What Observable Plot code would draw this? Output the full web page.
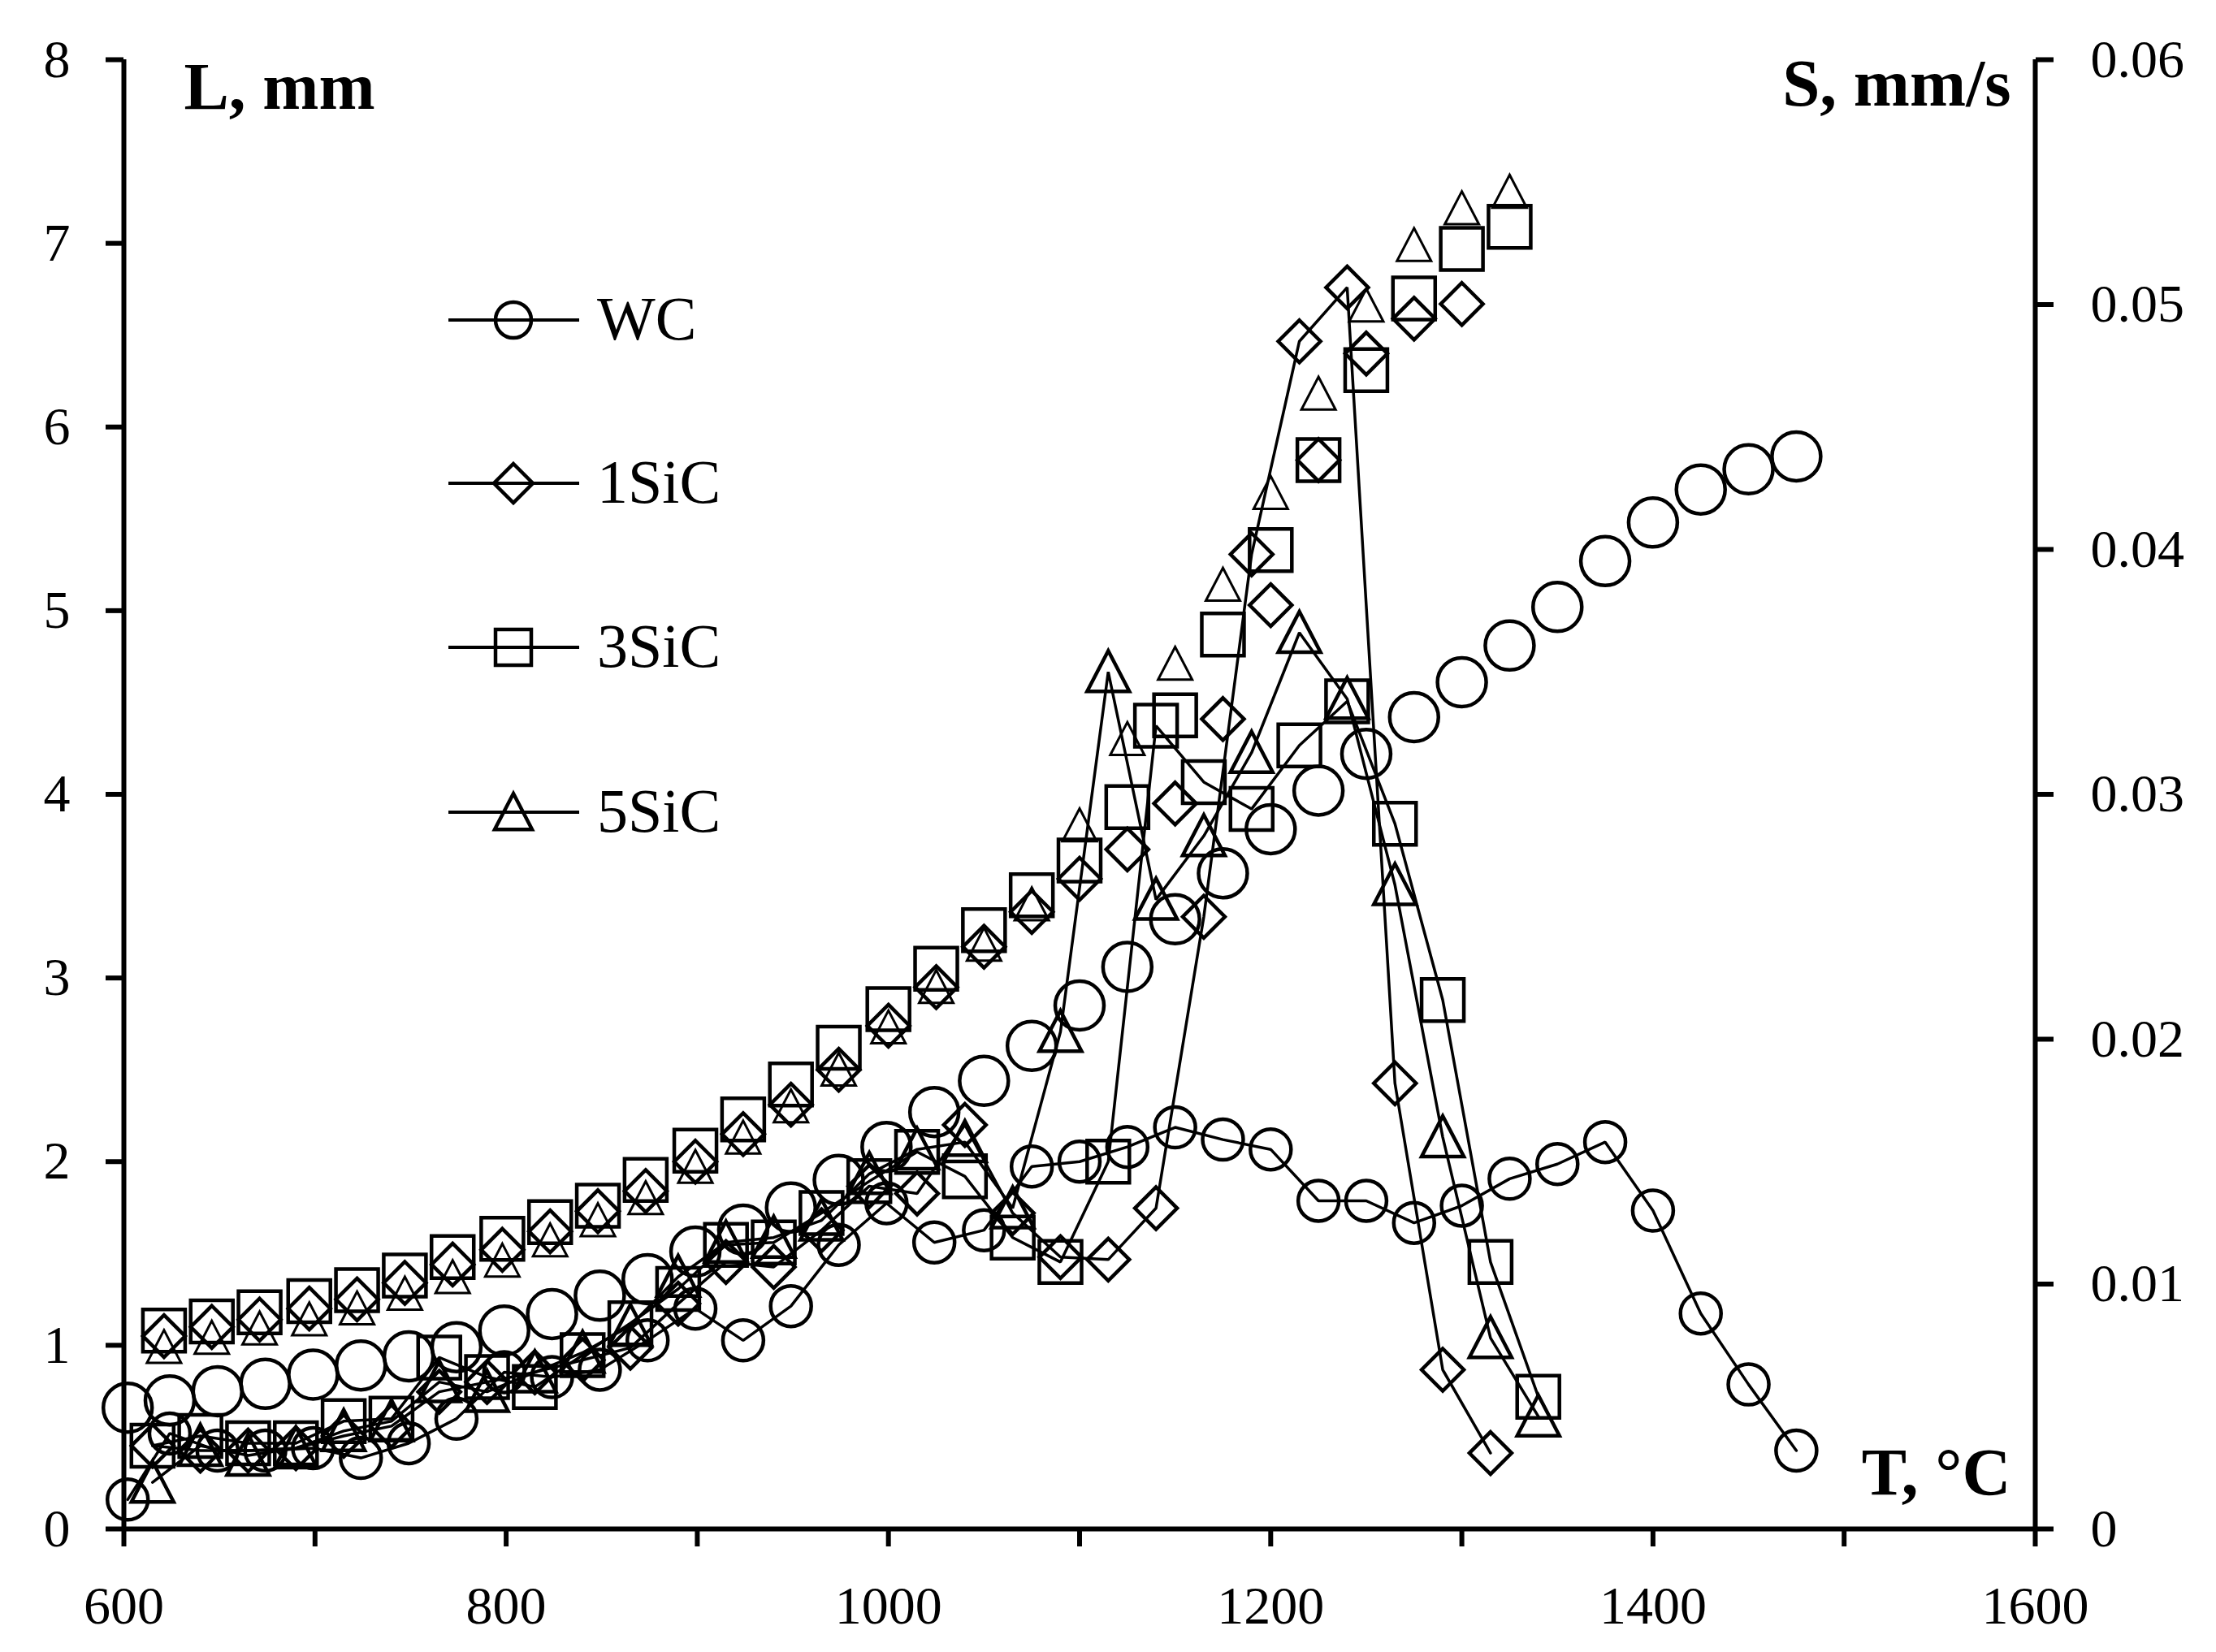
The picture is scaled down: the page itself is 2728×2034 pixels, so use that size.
<!DOCTYPE html>
<html>
<head>
<meta charset="utf-8">
<script src="https://cdn.jsdelivr.net/npm/d3@7"></script>
<script src="https://cdn.jsdelivr.net/npm/@observablehq/plot@0.6"></script>
<style>
  html, body { margin: 0; padding: 0; background: #fff; }
  #chart svg { display: block; }
</style>
</head>
<body>
<div id="chart"></div>
<script>
// ---------- data ----------
const seriesNames = ["WC", "1SiC", "3SiC", "5SiC"];

// temperature grids (°C)
const wcT = [602,624,649,674,699,724,749,774,799,824,849,874,899,924,949,974,999,1024,1050,1075,1100,1125,1150,1175,1200,1225,1250,1275,1300,1325,1350,1375,1400,1425,1450,1475];
const sicLT = [621,646,671,697,722,747,772,798,823,848,873,899,924,949,974,1000,1025,1050,1075,1100,1125,1150,1175,1200,1225,1250,1275,1300,1325];
const sicST = [615,640,665,690,715,740,765,790,815,840,865,890,915,940,965,990,1015,1040,1065,1090,1115,1140,1165,1190,1215,1240,1265,1290,1315,1340];

// shrinkage L, mm (left axis)
const wcL   = [0.66,0.70,0.75,0.79,0.84,0.89,0.94,0.99,1.08,1.17,1.27,1.36,1.51,1.63,1.75,1.90,2.08,2.27,2.44,2.63,2.85,3.06,3.32,3.57,3.81,4.02,4.22,4.42,4.61,4.81,5.02,5.27,5.48,5.66,5.77,5.84];
const sic1L = [1.05,1.10,1.14,1.20,1.25,1.34,1.44,1.52,1.62,1.73,1.84,2.00,2.15,2.31,2.50,2.74,2.95,3.17,3.36,3.54,3.70,3.95,4.41,5.03,5.82,6.40,6.59,6.67];
const sic3L = [1.08,1.13,1.18,1.24,1.30,1.38,1.48,1.58,1.67,1.76,1.90,2.06,2.23,2.42,2.62,2.83,3.05,3.26,3.45,3.64,3.93,4.43,4.87,5.33,5.82,6.31,6.70,6.97,7.09];
const sic5L = [0.99,1.04,1.09,1.14,1.20,1.28,1.37,1.46,1.57,1.68,1.80,1.97,2.13,2.30,2.50,2.73,2.95,3.18,3.40,3.83,4.30,4.71,5.14,5.64,6.18,6.66,6.99,7.19,7.28];

// shrinkage rate S, mm/s (right axis)
const wcS   = [0.0012,0.0039,0.0032,0.0032,0.0033,0.0029,0.0035,0.0045,0.0064,0.0062,0.0065,0.0077,0.0090,0.0077,0.0091,0.0116,0.0133,0.0117,0.0122,0.0148,0.0150,0.0156,0.0164,0.0159,0.0155,0.0134,0.0134,0.0125,0.0132,0.0143,0.0149,0.0158,0.0130,0.0088,0.0059,0.0032];
const sic1S = [0.0034,0.0032,0.0032,0.0033,0.0038,0.0042,0.0056,0.0060,0.0064,0.0069,0.0074,0.0092,0.0109,0.0107,0.0122,0.0140,0.0137,0.0165,0.0129,0.0111,0.0110,0.0131,0.0250,0.0398,0.0485,0.0507,0.0182,0.0065,0.0031];
const sic3S = [0.0034,0.0038,0.0035,0.0035,0.0044,0.0045,0.0070,0.0062,0.0058,0.0071,0.0084,0.0098,0.0116,0.0117,0.0129,0.0142,0.0154,0.0144,0.0119,0.0109,0.0150,0.0328,0.0305,0.0294,0.0320,0.0338,0.0288,0.0216,0.0109,0.0054];
const sic5S = [0.0019,0.0034,0.0030,0.0033,0.0040,0.0044,0.0060,0.0056,0.0064,0.0072,0.0083,0.0103,0.0117,0.0119,0.0126,0.0145,0.0155,0.0158,0.0131,0.0203,0.0350,0.0257,0.0283,0.0317,0.0366,0.0339,0.0263,0.0160,0.0078,0.0046];

// axes
const xDomain = [600, 1600];
const xTicks = [600,700,800,900,1000,1100,1200,1300,1400,1500,1600];
const xTickLabels = ["600","","800","","1000","","1200","","1400","","1600"];
const lDomain = [0, 8];
const lTicks = [0,1,2,3,4,5,6,7,8];
const sDomain = [0, 0.06];
const sTicks = [0,0.01,0.02,0.03,0.04,0.05,0.06];
const sTickLabels = ["0","0.01","0.02","0.03","0.04","0.05","0.06"];

// ---------- helpers ----------
const K = (lDomain[1] - lDomain[0]) / (sDomain[1] - sDomain[0]); // maps S onto the L scale
const rowsL = (T, L) => T.slice(0, L.length).map((t, i) => ({T: t, v: L[i]}));
const rowsS = (T, S) => T.slice(0, S.length).map((t, i) => ({T: t, v: S[i] * K}));

function sym(fn) { return {draw(ctx, size) { fn(ctx, Math.sqrt(size / Math.PI)); }}; }
const circleSym = sym((c, r) => { c.moveTo(r, 0); c.arc(0, 0, r, 0, 2 * Math.PI); c.closePath(); });
const squareSym = sym((c, r) => { c.moveTo(-r, -r); c.lineTo(r, -r); c.lineTo(r, r); c.lineTo(-r, r); c.closePath(); });
const diamondSym = sym((c, r) => { c.moveTo(0, -r); c.lineTo(r, 0); c.lineTo(0, r); c.lineTo(-r, 0); c.closePath(); });
const triangleSym = sym((c, r) => { c.moveTo(0, -r); c.lineTo(r, r * 0.92); c.lineTo(-r, r * 0.92); c.closePath(); });
const symbols = [circleSym, diamondSym, squareSym, triangleSym];

const Sdata = [rowsS(wcT, wcS), rowsS(sicST, sic1S), rowsS(sicST, sic3S), rowsS(sicST, sic5S)];
const Ldata = [rowsL(wcT, wcL), rowsL(sicLT, sic1L), rowsL(sicLT, sic3L), rowsL(sicLT, sic5L)];
const sR = [25, 26, 26, 26];
const lR = [30, 26, 26, 21];
const lSW = [4.5, 4.5, 4.5, 3];

const FONT = "'Liberation Serif', 'DejaVu Serif', serif";
const W = 2728, H = 2034;
const ML = 152, MR = 223, MT = 73, MB = 152;

const marks = [];
// connected rate curves
Sdata.forEach((d, i) => {
  marks.push(Plot.line(d, {x: "T", y: "v", stroke: "black", strokeWidth: 3.5, strokeLinejoin: "miter"}));
});
Sdata.forEach((d, i) => {
  marks.push(Plot.dot(d, {x: "T", y: "v", symbol: () => symbols[i], r: sR[i], stroke: "black", fill: "none", strokeWidth: 4.5}));
});
// shrinkage curves (markers only)
Ldata.forEach((d, i) => {
  marks.push(Plot.dot(d, {x: "T", y: "v", symbol: () => symbols[i], r: lR[i], stroke: "black", fill: "none", strokeWidth: lSW[i]}));
});

// axis lines
marks.push(Plot.ruleX([xDomain[0]], {stroke: "black", strokeWidth: 6}));
marks.push(Plot.ruleX([xDomain[1]], {stroke: "black", strokeWidth: 6}));
marks.push(Plot.ruleY([lDomain[0]], {stroke: "black", strokeWidth: 6}));

// axes
marks.push(Plot.axisX({ticks: xTicks, tickFormat: (d, i) => xTickLabels[i], tickSize: 22, tickPadding: 48,
  strokeWidth: 6, fontSize: 66, label: null}));
marks.push(Plot.axisY({anchor: "left", ticks: lTicks, tickFormat: d => String(d), tickSize: 22, tickPadding: 44,
  strokeWidth: 6, fontSize: 66, label: null}));
marks.push(Plot.axisY({anchor: "right", ticks: sTicks.map(s => s * K), tickFormat: (d, i) => sTickLabels[i],
  tickSize: 22, tickPadding: 46, strokeWidth: 6, fontSize: 66, label: null}));

// axis titles
marks.push(Plot.text(["L, mm"], {text: d => d, frameAnchor: "top-left", dx: 74, dy: 60, textAnchor: "start",
  lineAnchor: "bottom", fontWeight: "bold", fontSize: 83}));
marks.push(Plot.text(["S, mm/s"], {text: d => d, frameAnchor: "top-right", dx: -30, dy: 56, textAnchor: "end",
  lineAnchor: "bottom", fontWeight: "bold", fontSize: 83}));
marks.push(Plot.text(["T, °C"], {text: d => d, frameAnchor: "bottom-right", dx: -30, dy: -43, textAnchor: "end",
  lineAnchor: "bottom", fontWeight: "bold", fontSize: 83}));

const chart = Plot.plot({
  width: W, height: H,
  marginLeft: ML, marginRight: MR, marginTop: MT, marginBottom: MB,
  style: {fontFamily: FONT, background: "white", color: "black", overflow: "visible"},
  x: {domain: xDomain},
  y: {domain: lDomain},
  marks
});

// legend (inside plot area)
const svg = d3.select(chart);
const lg = svg.append("g").attr("font-family", FONT).attr("text-anchor", "start");
const legRows = [394, 595, 797, 1000];
const legSyms = [d3.symbol(circleSym, Math.PI * 22 * 22), d3.symbol(diamondSym, Math.PI * 24 * 24),
                 d3.symbol(squareSym, Math.PI * 22 * 22), d3.symbol(triangleSym, Math.PI * 23 * 23)];
seriesNames.forEach((name, i) => {
  const y = legRows[i];
  lg.append("line").attr("x1", 552).attr("x2", 713).attr("y1", y).attr("y2", y)
    .attr("stroke", "black").attr("stroke-width", 4);
  lg.append("path").attr("d", legSyms[i]()).attr("transform", `translate(632,${y})`)
    .attr("fill", "none").attr("stroke", "black").attr("stroke-width", 4.5);
  lg.append("text").attr("x", 735).attr("y", y + 24).attr("font-size", 76).attr("fill", "black")
    .attr("text-anchor", "start").text(name);
});

document.getElementById("chart").appendChild(chart);
</script>
</body>
</html>
